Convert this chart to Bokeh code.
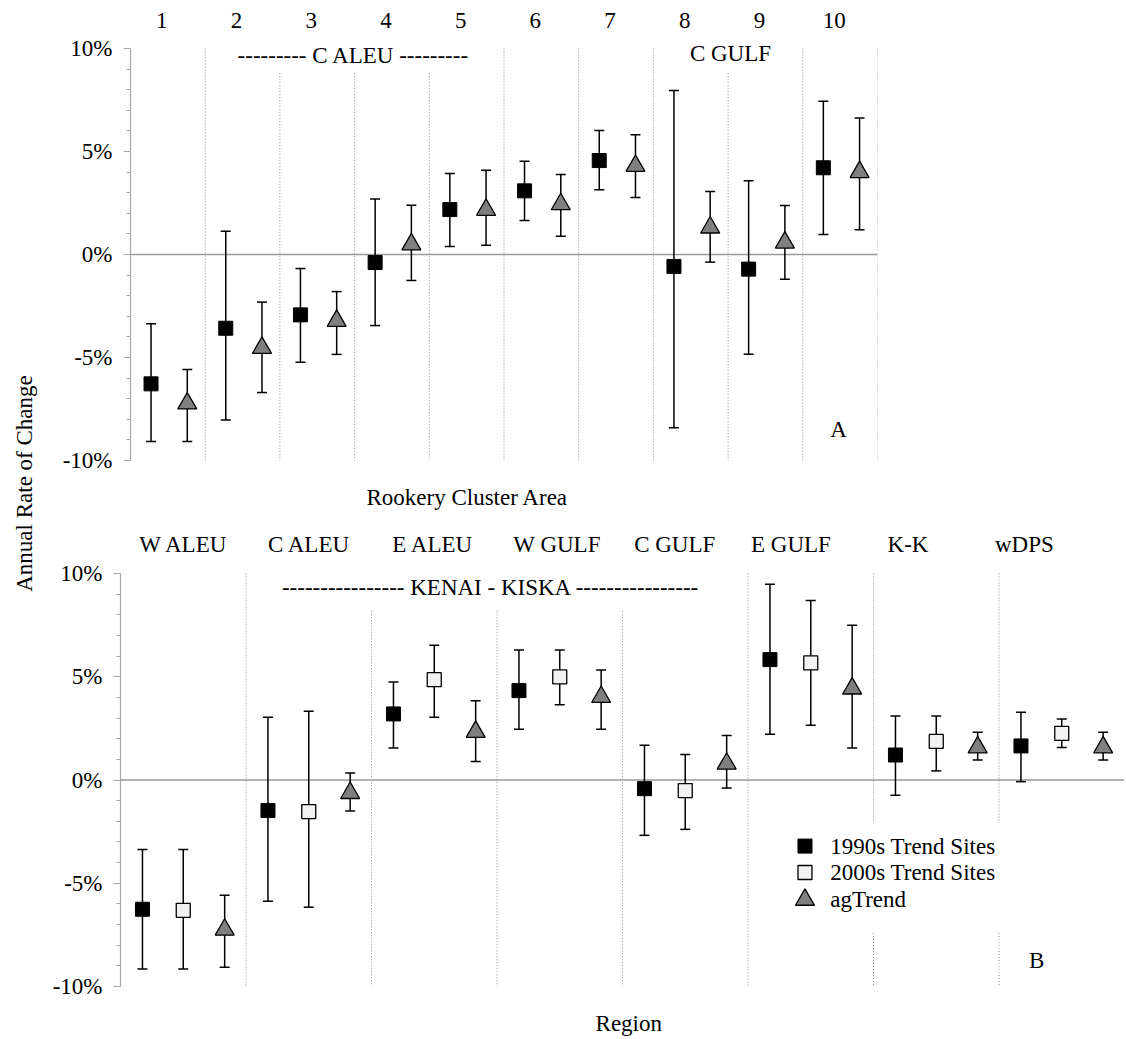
import math
from bokeh.plotting import figure
from bokeh.models import ColumnDataSource, Range1d, FixedTicker, PrintfTickFormatter, Label, Span
from bokeh.layouts import row, column
from bokeh.embed import file_html
from bokeh.resources import INLINE

FONT = "Liberation Serif"

# ---------------- Panel A data (annual rate of change, %) ----------------
clusters = ["1", "2", "3", "4", "5", "6", "7", "8", "9", "10"]
a_1990 = [-6.28, -3.58, -2.93, -0.39, 2.18, 3.09, 4.56, -0.58, -0.71, 4.21]
a_1990_hi = [-3.36, 1.13, -0.68, 2.69, 3.93, 4.53, 6.02, 7.96, 3.58, 7.44]
a_1990_lo = [-9.08, -8.04, -5.23, -3.45, 0.39, 1.65, 3.14, -8.41, -4.84, 0.97]
a_ag = [-7.23, -4.53, -3.22, 0.49, 2.17, 2.44, 4.30, 1.31, 0.58, 4.00]
a_ag_hi = [-5.58, -2.31, -1.80, 2.39, 4.09, 3.88, 5.81, 3.06, 2.38, 6.63]
a_ag_lo = [-9.08, -6.70, -4.85, -1.26, 0.45, 0.89, 2.77, -0.37, -1.20, 1.20]

# ---------------- Panel B data ----------------
regions = ["W ALEU", "C ALEU", "E ALEU", "W GULF", "C GULF", "E GULF", "K-K", "wDPS"]
b_1990 = [-6.26, -1.48, 3.20, 4.33, -0.42, 5.83, 1.21, 1.65]
b_1990_hi = [-3.37, 3.04, 4.75, 6.30, 1.68, 9.48, 3.10, 3.28]
b_1990_lo = [-9.15, -5.87, 1.55, 2.46, -2.68, 2.21, -0.74, -0.08]
b_2000 = [-6.31, -1.53, 4.86, 4.99, -0.51, 5.67, 1.87, 2.26]
b_2000_hi = [-3.37, 3.33, 6.52, 6.30, 1.24, 8.69, 3.10, 2.95]
b_2000_lo = [-9.15, -6.16, 3.04, 3.65, -2.39, 2.65, 0.44, 1.57]
b_ag = [-7.25, -0.63, 2.33, 4.02, 0.79, 4.43, 1.58, 1.58]
b_ag_hi = [-5.58, 0.34, 3.84, 5.33, 2.15, 7.49, 2.31, 2.31]
b_ag_lo = [-9.07, -1.50, 0.89, 2.46, -0.39, 1.55, 0.97, 0.97]

y_ticks = [-10, -5, 0, 5, 10]
series_names = ["1990s Trend Sites", "2000s Trend Sites", "agTrend"]

# ---------------- styling / layout constants ----------------
TXT = "23px"
GRID_C = "#a6a6a6"
SEP_C = "#8a8a8a"
STY = {
    "1990": dict(marker="square", size=14, fill_color="black", line_color="black", line_width=1),
    "2000": dict(marker="square", size=14, fill_color="#f2f2f2", line_color="black", line_width=1.3),
    "ag": dict(marker="triangle", size=19, fill_color="#7f7f7f", line_color="black", line_width=1.3),
}


def style_axis(p):
    ax = p.yaxis[0]
    ax.bounds = (-10, 10)
    ax.ticker = FixedTicker(ticks=y_ticks, minor_ticks=list(range(-10, 11)))
    ax.formatter = PrintfTickFormatter(format="%d%%")
    ax.axis_line_color = GRID_C
    ax.axis_line_width = 1.2
    ax.major_tick_line_color = GRID_C
    ax.minor_tick_line_color = GRID_C
    ax.major_tick_in = 0
    ax.major_tick_out = 7
    ax.minor_tick_in = 0
    ax.minor_tick_out = 4
    ax.major_label_standoff = 11
    ax.major_label_text_font = FONT
    ax.major_label_text_font_size = TXT
    ax.major_label_text_color = "black"
    p.grid.visible = False
    p.outline_line_color = None


def lab(p, x, y, text, align="center", angle=0, size=TXT):
    p.add_layout(Label(x=x, y=y, text=text, text_font=FONT, text_font_size=size,
                       text_align=align, text_baseline="middle", angle=angle,
                       text_color="black"))


def separators(p, xs, y_top, y_bot):
    src = ColumnDataSource(dict(x=xs, y0=y_top, y1=y_bot))
    p.segment(x0="x", x1="x", y0="y0", y1="y1", source=src, line_color=SEP_C,
              line_width=1, line_dash="1 2")


def series(p, xs, v, hi, lo, key):
    src = ColumnDataSource(dict(x=xs, v=v, hi=hi, lo=lo))
    p.segment(x0="x", x1="x", y0="lo", y1="hi", source=src, line_color="black", line_width=1.5)
    p.scatter(x="x", y="hi", source=src, marker="dash", size=10, line_color="black", line_width=1.5)
    p.scatter(x="x", y="lo", source=src, marker="dash", size=10, line_color="black", line_width=1.5)
    p.scatter(x="x", y="v", source=src, **STY[key])


# ================= Panel A =================
W = 1076
H_TOP = 515
scale_a = 20.6
a_end = 10 + 48 / scale_a
a_start = a_end - H_TOP / scale_a
top = figure(width=W, height=H_TOP, x_range=Range1d(0, 10), y_range=Range1d(a_start, a_end),
             x_axis_location=None, toolbar_location=None, output_backend="svg",
             min_border_left=82, min_border_right=W - 82 - 747, min_border_top=0,
             min_border_bottom=0, frame_align=False)
style_axis(top)
top.add_layout(Span(location=0, dimension="width", line_color="#9a9a9a", line_width=1.5, level="underlay"))
sepA = list(range(1, 11))
sepA_top = [10 if i not in (2, 3, 4, 8) else 8.8 for i in sepA]
separators(top, sepA, sepA_top, [-10] * len(sepA))
iA = list(range(len(clusters)))
series(top, [i + 0.275 for i in iA], a_1990, a_1990_hi, a_1990_lo, "1990")
series(top, [i + 0.76 for i in iA], a_ag, a_ag_hi, a_ag_lo, "ag")
for i, c in enumerate(clusters):
    lab(top, i + 0.42, 11.36, c)
lab(top, 2.985, 9.64, "--------- C ALEU ---------")
lab(top, 8.07, 9.74, "C  GULF")
lab(top, 9.48, -8.5, "A")
lab(top, 4.51, -11.8, "Rookery Cluster Area")

# ================= Panel B =================
H_BOT = 522
scale_b = 20.65
b_end = 10 + (573 - H_TOP) / scale_b
b_start = b_end - H_BOT / scale_b
bot = figure(width=W, height=H_BOT, x_range=Range1d(0, 8), y_range=Range1d(b_start, b_end),
             x_axis_location=None, toolbar_location=None, output_backend="svg",
             min_border_left=72, min_border_right=0, min_border_top=0,
             min_border_bottom=0, frame_align=False)
style_axis(bot)
bot.add_layout(Span(location=0, dimension="width", line_color="#9a9a9a", line_width=1.5, level="underlay"))
sepB = [1, 2, 3, 4, 5, 6, 6, 7, 7]
sepB_top = [10, 8.17, 8.17, 8.17, 10, 10, -7.41, 10, -7.41]
sepB_bot = [-10, -10, -10, -10, -10, -2.08, -10, -2.08, -10]
separators(bot, sepB, sepB_top, sepB_bot)
iB = list(range(len(regions)))
series(bot, [i + 0.175 for i in iB], b_1990, b_1990_hi, b_1990_lo, "1990")
series(bot, [i + 0.50 for i in iB], b_2000, b_2000_hi, b_2000_lo, "2000")
series(bot, [i + 0.83 for i in iB], b_ag, b_ag_hi, b_ag_lo, "ag")
region_label_x = [0.503, 1.503, 2.489, 3.479, 4.416, 5.342, 6.275, 7.202]
for xl, r in zip(region_label_x, regions):
    lab(bot, xl, 11.40, r)
lab(bot, 2.95, 9.32, "---------------- KENAI - KISKA ----------------")
lab(bot, 7.30, -8.74, "B")
lab(bot, 4.05, -11.79, "Region")

# legend (drawn manually)
leg_y = [-3.2, -4.48, -5.8]
leg_src_keys = ["1990", "2000", "ag"]
for yy, k, name in zip(leg_y, leg_src_keys, series_names):
    s = ColumnDataSource(dict(x=[5.454], y=[yy]))
    bot.scatter(x="x", y="y", source=s, **STY[k])
    lab(bot, 5.655, yy, name, align="left")

# ================= Y title =================
H_ALL = H_TOP + H_BOT
yt = figure(width=48, height=H_ALL, x_range=Range1d(0, 48), y_range=Range1d(0, H_ALL),
            x_axis_location=None, y_axis_location=None, toolbar_location=None,
            output_backend="svg", min_border=0, outline_line_color=None)
yt.grid.visible = False
lab(yt, 24, H_ALL - 483, "Annual Rate of Change", angle=math.pi / 2)

layout = row(yt, column(top, bot))
open("out.html", "w").write(file_html(layout, INLINE))
